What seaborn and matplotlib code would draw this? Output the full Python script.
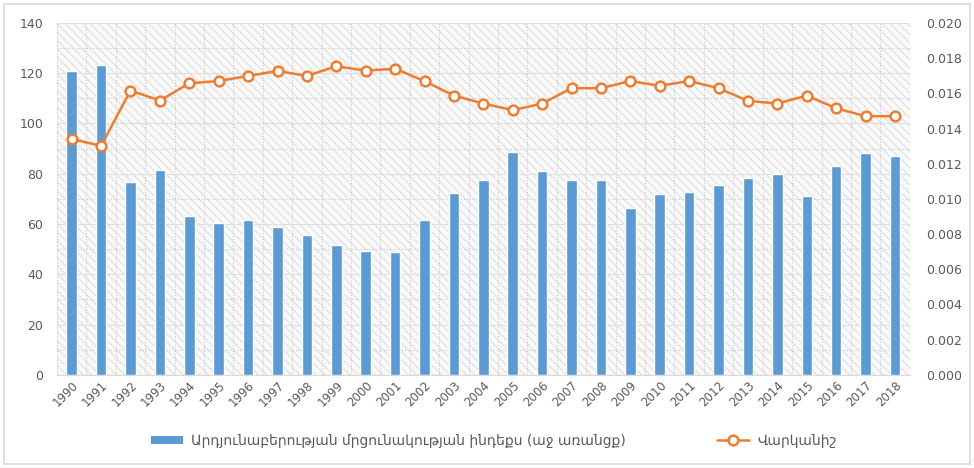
import numpy as np
import pandas as pd
import matplotlib
matplotlib.use("Agg")
import matplotlib.pyplot as plt
from matplotlib.patches import Rectangle, Patch
from matplotlib.lines import Line2D
import seaborn as sns

# data
years = [str(y) for y in range(1990, 2019)]
index_values = [121.0, 123.3, 76.9, 81.5, 63.2, 60.3, 61.5, 59.0, 55.6, 51.6,
                49.4, 48.9, 61.8, 72.3, 77.4, 88.6, 80.9, 77.4, 77.4, 66.5,
                71.9, 72.7, 75.6, 78.5, 80.1, 71.3, 82.9, 88.2, 87.2]
rating = [0.01341, 0.01301, 0.01616, 0.01559, 0.01657, 0.01670, 0.01699, 0.01727,
          0.01699, 0.01754, 0.01729, 0.01740, 0.01669, 0.01587, 0.01542, 0.01504,
          0.01542, 0.01629, 0.01629, 0.01670, 0.01643, 0.01670, 0.01629, 0.01557,
          0.01542, 0.01587, 0.01515, 0.01470, 0.01470]
left_ticks = [0, 20, 40, 60, 80, 100, 120, 140]
right_ticks = [0.000, 0.002, 0.004, 0.006, 0.008, 0.010, 0.012, 0.014, 0.016, 0.018, 0.020]
bar_label = "Արդյունաբերության մրցունակության ինդեքս (աջ առանցք)"
line_label = "Վարկանիշ"

bar_color = "#5b9bd5"
line_color = "#ed7d31"
text_color = "#595959"

df = pd.DataFrame({"year": years, "index": index_values, "rating": rating})

sns.set_style("white")
plt.rcParams["font.family"] = ["DejaVu Sans"]

fig = plt.figure(figsize=(9.74, 4.68), dpi=100)
ax = fig.add_axes([0.0585, 0.199, 0.8755, 0.752])

# hatched light background like the original
ax.add_patch(Rectangle((0, 0), 1, 1, transform=ax.transAxes, facecolor="#fafafa",
                       edgecolor="#e3e3e3", hatch="\\\\\\\\", linewidth=0, zorder=0))

sns.barplot(data=df, x="year", y="index", color=bar_color, width=0.36,
            saturation=1, ax=ax, zorder=3)

ax.set_ylim(0, 140)
ax.set_xlim(-0.5, len(years) - 0.5)
ax.set_yticks(left_ticks)
ax.set_yticks(np.arange(10, 140, 20), minor=True)
ax.grid(axis="y", which="major", color="#dedede", linewidth=0.8, zorder=1)
ax.grid(axis="y", which="minor", color="#c8c8c8", linewidth=0.8, linestyle=":", zorder=1)
ax.set_xticks(np.arange(-0.5, len(years), 1), minor=True)
ax.grid(axis="x", which="minor", color="#c8c8c8", linewidth=0.8, linestyle=":", zorder=1)
ax.set_axisbelow(True)
ax.set_xlabel("")
ax.set_ylabel("")
ax.tick_params(axis="x", which="both", length=0, labelsize=8.5, colors=text_color, pad=3)
ax.tick_params(axis="y", which="both", length=0, labelsize=9, colors=text_color, pad=10)
for lbl in ax.get_xticklabels():
    lbl.set_rotation(45)
    lbl.set_ha("right")
    lbl.set_rotation_mode("anchor")
for s in ax.spines.values():
    s.set_visible(False)
ax.spines["bottom"].set_visible(True)
ax.spines["bottom"].set_color("#d9d9d9")

ax2 = ax.twinx()
sns.pointplot(data=df, x="year", y="rating", color=line_color, markers="o",
              linestyles="-", errorbar=None, ax=ax2)
for ln in ax2.lines:
    ln.set_markerfacecolor("white")
    ln.set_markeredgecolor(line_color)
    ln.set_markersize(7)
    ln.set_markeredgewidth(1.8)
    ln.set_linewidth(1.8)
    ln.set_zorder(5)
ax2.set_ylim(0, 0.020)
ax2.set_xlim(-0.5, len(years) - 0.5)
ax2.set_yticks(right_ticks)
ax2.set_yticklabels([f"{t:.3f}" for t in right_ticks])
ax2.set_ylabel("")
ax2.tick_params(axis="y", length=0, labelsize=9, colors=text_color, pad=12)
for s in ax2.spines.values():
    s.set_visible(False)

handles = [Patch(facecolor=bar_color, edgecolor="none"),
           Line2D([0], [0], color=line_color, linewidth=1.8, marker="o", markersize=7,
                  markerfacecolor="white", markeredgecolor=line_color, markeredgewidth=1.8)]
fig.legend(handles, [bar_label, line_label], loc="center", bbox_to_anchor=(0.507, 0.058),
           ncol=2, frameon=False, fontsize=10, labelcolor=text_color,
           handlelength=2.3, handleheight=0.5, columnspacing=6.6, handletextpad=0.6)

# light outer frame
fig.patches.append(Rectangle((0.004, 0.008), 0.992, 0.984, transform=fig.transFigure,
                             fill=False, edgecolor="#d9d9d9", linewidth=1.2))

fig.savefig("out.png", dpi=100)
